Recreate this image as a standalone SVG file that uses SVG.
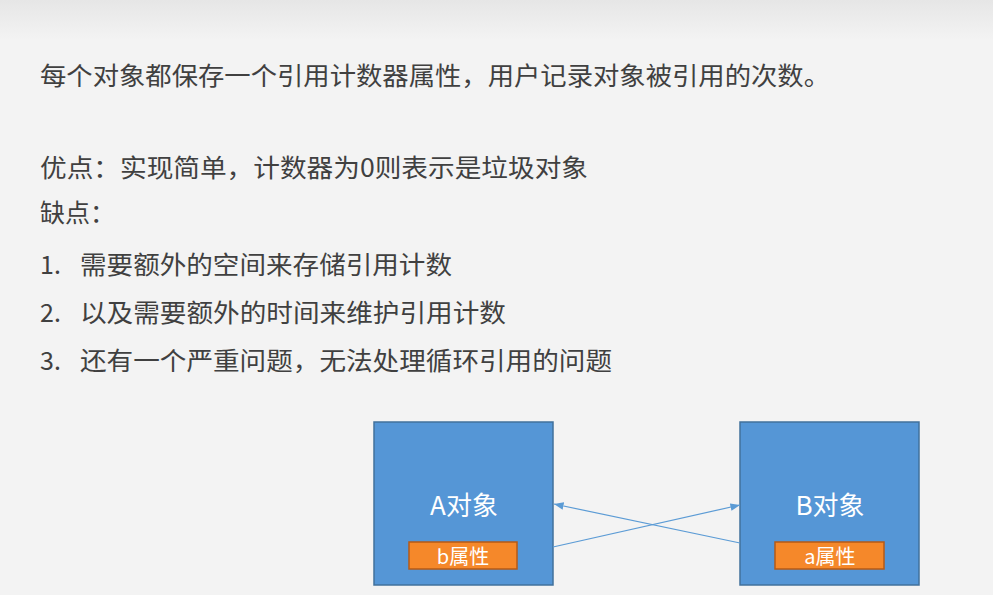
<svg xmlns="http://www.w3.org/2000/svg" width="993" height="595" viewBox="0 0 993 595">
<defs>
<linearGradient id="bg" x1="0" y1="0" x2="0" y2="1"><stop offset="0" stop-color="#e6e6e6"/><stop offset="1" stop-color="#f3f3f3"/></linearGradient>
<marker id="ah" viewBox="0 0 10 10" refX="10" refY="5" markerWidth="8" markerHeight="8" orient="auto-start-reverse"><path d="M0,1 L10,5 L0,9 z" fill="#5b9bd5"/></marker>
</defs>
<style>
.t{font-family:"Noto Sans CJK SC","Noto Sans",sans-serif;font-size:25px;fill:#404040}
.obj{fill:#5596d6;stroke:#41719c;stroke-width:1.5}
.attr{fill:#f5882a;stroke:#b55a16;stroke-width:1.5}
.lbl{font-family:"Noto Sans CJK SC","Noto Sans",sans-serif;fill:#fff;text-anchor:middle}
.c{stroke:#5b9bd5;stroke-width:1.2;fill:none;marker-end:url(#ah)}
</style>
<rect width="993" height="595" fill="#f3f3f3"/>
<rect width="993" height="40" fill="url(#bg)"/>
<g id="text">
<text class="t" x="40" y="85" textLength="790" lengthAdjust="spacingAndGlyphs">每个对象都保存一个引用计数器属性，用户记录对象被引用的次数。</text>
<text class="t" x="40" y="177" textLength="548" lengthAdjust="spacingAndGlyphs">优点：实现简单，计数器为0则表示是垃圾对象</text>
<text class="t" x="40" y="222">缺点：</text>
<text class="t" x="40" y="274">1.</text><text class="t" x="80" y="274" textLength="372" lengthAdjust="spacingAndGlyphs">需要额外的空间来存储引用计数</text>
<text class="t" x="40" y="322">2.</text><text class="t" x="80" y="322" textLength="426" lengthAdjust="spacingAndGlyphs">以及需要额外的时间来维护引用计数</text>
<text class="t" x="40" y="370">3.</text><text class="t" x="80" y="370" textLength="532" lengthAdjust="spacingAndGlyphs">还有一个严重问题，无法处理循环引用的问题</text>
</g>
<g id="nodeA">
<rect class="obj" x="374" y="422" width="179" height="163"/>
<text class="lbl" x="464" y="515" font-size="26">A对象</text>
<rect class="attr" x="409" y="542" width="108" height="27"/>
<text class="lbl" x="463" y="564" font-size="20">b属性</text>
</g>
<g id="nodeB">
<rect class="obj" x="740" y="422" width="179" height="163"/>
<text class="lbl" x="830" y="515" font-size="26">B对象</text>
<rect class="attr" x="775" y="542" width="109" height="27"/>
<text class="lbl" x="830" y="564" font-size="20">a属性</text>
</g>
<g id="connectors">
<line class="c" x1="553" y1="547" x2="740" y2="505"/>
<line class="c" x1="740" y1="543" x2="554" y2="504"/>
</g>
</svg>
